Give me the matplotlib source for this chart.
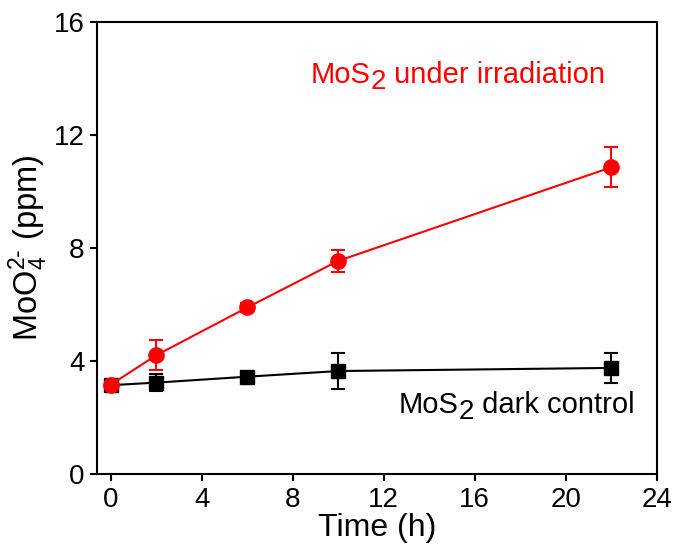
import matplotlib
matplotlib.use("Agg")
import matplotlib.pyplot as plt

plt.rcParams['font.family'] = ['Liberation Sans', 'DejaVu Sans']
plt.rcParams['mathtext.fontset'] = 'custom'
plt.rcParams['mathtext.rm'] = 'Liberation Sans'
plt.rcParams['mathtext.it'] = 'Liberation Sans'
plt.rcParams['mathtext.bf'] = 'Liberation Sans:bold'

time_h = [0, 2, 6, 10, 22]
irr_vals = [3.17, 4.21, 5.90, 7.55, 10.86]
irr_err = [0.10, 0.53, 0.15, 0.40, 0.71]
dark_vals = [3.15, 3.24, 3.45, 3.65, 3.76]
dark_err = [0.10, 0.30, 0.10, 0.65, 0.54]
xticks = [0, 4, 8, 12, 16, 20, 24]
yticks = [0, 4, 8, 12, 16]

fig = plt.figure(figsize=(6.75, 5.52), dpi=100)
ax = fig.add_axes([0.144, 0.141, 0.829, 0.819])

ax.errorbar(time_h, dark_vals, yerr=dark_err, color='black', marker='s', ms=9.5,
            lw=1.5, capsize=5, elinewidth=1.5, capthick=1.5, zorder=3)
ax.errorbar(time_h, irr_vals, yerr=irr_err, color='#ff0000', marker='o', ms=11,
            lw=1.5, capsize=5, elinewidth=1.5, capthick=1.5, zorder=4)

ax.set_xlim(-0.6, 24)
ax.set_ylim(0, 16)
ax.set_xticks(xticks)
ax.set_yticks(yticks)
ax.tick_params(direction='out', length=5, width=1.5, labelsize=20, pad=4)
for s in ax.spines.values():
    s.set_linewidth(1.5)

ax.set_xlabel('Time (h)', fontsize=23, labelpad=0)
ax.set_ylabel(r'MoO$_4^{2\text{-}}$ (ppm)', fontsize=23.5, labelpad=2.5)


def sub_label(x, y, tail, color):
    t1 = ax.text(x, y, 'MoS', color=color, fontsize=21, va='baseline', ha='left')
    t2 = ax.annotate('2', xy=(1, 0), xycoords=t1, xytext=(0.5, -4),
                     textcoords='offset points', color=color, fontsize=20,
                     va='bottom', ha='left')
    ax.annotate(tail, xy=(1, 0), xycoords=t2, xytext=(0, 4),
                textcoords='offset points', color=color, fontsize=21,
                va='bottom', ha='left')


sub_label(8.77, 13.84, ' under irradiation', '#ff0000')
sub_label(12.63, 2.16, ' dark control', 'black')

fig.savefig('out.png', dpi=100)
